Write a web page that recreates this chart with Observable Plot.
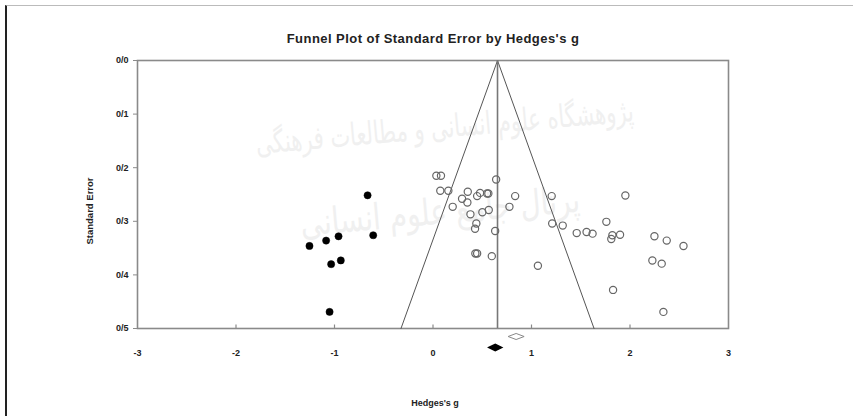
<!DOCTYPE html>
<html>
<head>
<meta charset="utf-8">
<script src="https://cdn.jsdelivr.net/npm/d3@7"></script>
<script src="https://cdn.jsdelivr.net/npm/@observablehq/plot@0.6"></script>
<style>
  html, body { margin: 0; padding: 0; background: #fff; }
  #wrap { position: relative; width: 853px; height: 416px; overflow: hidden; }
  #border { position: absolute; left: 5px; top: 5px; width: 860px; height: 420px;
            border-left: 2px solid #222; border-top: 1px solid #bbb; }
  .wm { position: absolute; font-family: "DejaVu Sans", sans-serif; color: #f0f0f0; white-space: nowrap; }
  #chart { position: absolute; left: 0; top: 0; }
  .lbl { position: absolute; font-family: 'Liberation Sans', Arial, sans-serif; font-weight: bold; color: #222; white-space: nowrap; }
  #title { left: 433px; top: 38px; font-size: 13px; letter-spacing: 0.45px; transform: translate(-50%, -50%); }
  #ylabel { left: 89px; top: 211px; font-size: 9.5px; transform: translate(-50%, -50%) rotate(-90deg); }
</style>
</head>
<body>
<div id="wrap">
  <div class="wm" style="left:255px; top:115px; font-size:21px; transform: rotate(-5deg) scaleY(1.5);" dir="rtl">پژوهشگاه علوم انسانی و مطالعات فرهنگی</div>
  <div class="wm" style="left:300px; top:195px; font-size:28px; transform: rotate(-5deg) scaleY(1.3);" dir="rtl">پرتال جامع علوم انسانی</div>
  <div id="chart"></div>
  <div id="title" class="lbl"></div>
  <div id="ylabel" class="lbl"></div>
  <div id="border"></div>
</div>
<script>
// Observed studies (open circles)
const openX = [0.034, 0.081, 0.074, 0.156, 0.353, 0.295, 0.349, 0.448, 0.478, 0.549, 0.562, 0.641,
  0.200, 0.834, 0.776, 0.380, 0.501, 0.566, 0.440, 0.427, 0.631, 0.430, 0.448, 0.597, 1.065,
  1.205, 1.210, 1.317, 1.459, 1.559, 1.620, 1.760, 1.821, 1.810, 1.899, 1.953, 2.248, 2.373,
  2.543, 2.227, 2.322, 1.828, 2.339];
const openSE = [0.215, 0.215, 0.243, 0.243, 0.245, 0.258, 0.265, 0.253, 0.247, 0.248, 0.248, 0.222,
  0.273, 0.253, 0.273, 0.287, 0.283, 0.279, 0.304, 0.314, 0.318, 0.360, 0.360, 0.365, 0.383,
  0.253, 0.304, 0.308, 0.322, 0.320, 0.323, 0.301, 0.326, 0.333, 0.325, 0.252, 0.328, 0.336,
  0.346, 0.373, 0.379, 0.428, 0.469];
// Imputed studies (filled circles)
const filledX = [-0.664, -0.607, -0.959, -1.085, -1.254, -0.936, -1.034, -1.050];
const filledSE = [0.2515, 0.326, 0.328, 0.336, 0.346, 0.373, 0.380, 0.469];

// Funnel and mean line
const funnelX = [-0.325, 0.655, 1.635];
const funnelSE = [0.5, 0, 0.5];
const meanLineX = [0.655];

// Summary diamonds: observed (open) and adjusted (filled)
const observedEffect = [0.844];
const adjustedEffect = [0.632];

// Axis ticks
const xTicks = [-3, -2, -1, 0, 1, 2, 3];
const xTickLabels = ["-3", "-2", "-1", "0", "1", "2", "3"];
const yTicks = [0, 0.1, 0.2, 0.3, 0.4, 0.5];
const yTickLabels = ["0/0", "0/1", "0/2", "0/3", "0/4", "0/5"];

const titleText = "Funnel Plot of Standard Error by Hedges's g";
const xLabel = "Hedges's g";
const yLabel = "Standard Error";

document.getElementById("title").textContent = titleText;
document.getElementById("ylabel").textContent = yLabel;

const openPts = openX.map((x, i) => ({x, se: openSE[i]}));
const filledPts = filledX.map((x, i) => ({x, se: filledSE[i]}));
const funnelPts = funnelX.map((x, i) => ({x, se: funnelSE[i]}));

function diamondSymbol(ratio) {
  return {
    draw(ctx, size) {
      const r = Math.sqrt(size / Math.PI);
      const h = r * ratio;
      ctx.moveTo(-r, 0);
      ctx.lineTo(0, -h);
      ctx.lineTo(r, 0);
      ctx.lineTo(0, h);
      ctx.closePath();
    }
  };
}

const chart = Plot.plot({
  width: 853,
  height: 416,
  marginLeft: 137,
  marginRight: 125,
  marginTop: 60,
  marginBottom: 88,
  style: {fontFamily: "'Liberation Sans', Arial, sans-serif", fontSize: "9px", fontWeight: "bold", color: "#222", background: "transparent"},
  x: {domain: [-3, 3]},
  y: {domain: [0, 0.5], reverse: true},
  marks: [
    Plot.frame({stroke: "#8a8a8a", strokeWidth: 1.6}),
    Plot.axisY({ticks: yTicks, tickFormat: (d) => yTickLabels[yTicks.indexOf(d)], tickSize: 4, tickPadding: 5, stroke: "#8a8a8a", fill: "#222", label: null}),
    Plot.axisX({ticks: xTicks, tickFormat: d => xTickLabels[xTicks.indexOf(d)], tickSize: 0, tickPadding: 21, fill: "#222", label: null}),
    Plot.ruleX(xTicks.slice(1, -1), {y1: 0.5, y2: 0.4935, stroke: "#8a8a8a", strokeWidth: 1.2}),
    Plot.line(funnelPts, {x: "x", y: "se", stroke: "#555", strokeWidth: 1}),
    Plot.ruleX(meanLineX, {y1: 0, y2: 0.5, stroke: "#777", strokeWidth: 1.6}),
    Plot.dot(openPts, {x: "x", y: "se", r: 3.6, stroke: "#666", strokeWidth: 1.2, fill: "none"}),
    Plot.dot(filledPts, {x: "x", y: "se", r: 3.6, fill: "#000", stroke: "#000", strokeWidth: 0.5}),
    Plot.dot(observedEffect, {x: d => d, y: () => 0.5, dy: 8, r: 8, symbol: diamondSymbol(0.38), fill: "#fff", stroke: "#888", strokeWidth: 1}),
    Plot.dot(adjustedEffect, {x: d => d, y: () => 0.5, dy: 19, r: 6.5, symbol: diamondSymbol(0.5), fill: "#000", stroke: "#000"}),
    Plot.text([xLabel], {frameAnchor: "bottom", dy: 77, dx: 2, text: d => d, fontSize: 9, fontWeight: "bold", fill: "#222"})
  ]
});
document.getElementById("chart").appendChild(chart);
</script>
</body>
</html>
